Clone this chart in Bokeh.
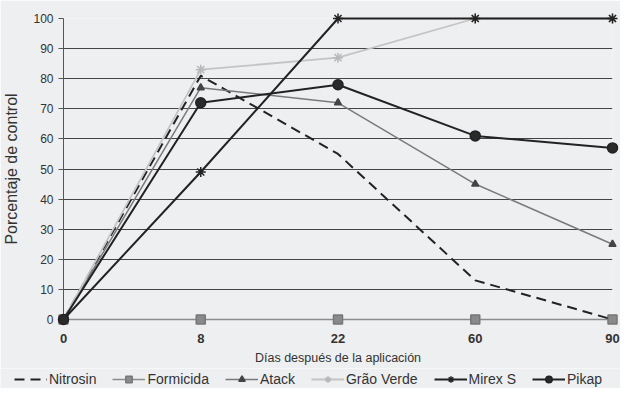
from bokeh.plotting import figure
from bokeh.layouts import column, row
from bokeh.models import FixedTicker, Legend, LegendItem, Range1d
from bokeh.embed import file_html
from bokeh.resources import INLINE

# ---- data ----
days = ["0", "8", "22", "60", "90"]
nitrosin = [0, 81, 55, 13, 0]
formicida = [0, 0, 0, 0, 0]
atack = [0, 77, 72, 45, 25]
grao_verde = [0, 83, 87, 100, 100]
mirex_s = [0, 49, 100, 100, 100]
pikap = [0, 72, 78, 61, 57]
y_ticks = list(range(0, 101, 10))
series_names = ["Nitrosin", "Formicida", "Atack", "Grão Verde", "Mirex S", "Pikap"]

x = list(range(len(days)))
FONT = "Liberation Sans"
BG = "#eeeff1"

p = figure(width=620, height=368, output_backend="svg", toolbar_location=None,
           x_range=Range1d(0, len(days) - 1), y_range=Range1d(0, 100),
           min_border_left=55, min_border_right=8, min_border_top=18,
           min_border_bottom=49)
p.background_fill_color = BG
p.border_fill_color = BG
p.outline_line_color = None

# grid
p.xgrid.visible = False
p.ygrid.ticker = FixedTicker(ticks=y_ticks)
p.ygrid.grid_line_color = "#444444"
p.ygrid.grid_line_width = 1

# y axis
p.yaxis.ticker = FixedTicker(ticks=y_ticks)
p.yaxis.axis_line_color = "#555555"
p.yaxis.major_tick_line_color = "#555555"
p.yaxis.major_tick_out = 5
p.yaxis.major_tick_in = 0
p.yaxis.minor_tick_line_color = None
p.yaxis.major_label_standoff = 5
p.yaxis.major_label_text_font = FONT
p.yaxis.major_label_text_font_size = "12px"
p.yaxis.major_label_text_color = "#333333"
p.yaxis.axis_label = "Porcentaje de control"
p.yaxis.axis_label_text_font = FONT
p.yaxis.axis_label_text_font_size = "16px"
p.yaxis.axis_label_text_font_style = "normal"
p.yaxis.axis_label_text_color = "#333333"
p.yaxis.axis_label_standoff = 10

# x axis
p.xaxis.ticker = FixedTicker(ticks=x)
p.xaxis.major_label_overrides = {i: d for i, d in zip(x, days)}
p.xaxis.axis_line_color = None
p.xaxis.major_tick_line_color = None
p.xaxis.minor_tick_line_color = None
p.xaxis.major_tick_out = 0
p.xaxis.major_tick_in = 0
p.xaxis.major_label_standoff = 14
p.xaxis.major_label_text_font = FONT
p.xaxis.major_label_text_font_size = "13px"
p.xaxis.major_label_text_font_style = "bold"
p.xaxis.major_label_text_color = "#333333"
p.xaxis.axis_label = "Días después de la aplicación"
p.xaxis.axis_label_text_font = FONT
p.xaxis.axis_label_text_font_size = "12.5px"
p.xaxis.axis_label_text_font_style = "normal"
p.xaxis.axis_label_text_color = "#333333"
p.xaxis.axis_label_standoff = 5

# legend strip (separate figure below the chart); its ranges keep the
# series themselves out of view so only the legend shows
lg = figure(width=620, height=20, output_backend="svg", toolbar_location=None,
            x_range=Range1d(0, 1), y_range=Range1d(1000, 1001),
            x_axis_type=None, y_axis_type=None, min_border=0,
            min_border_left=0, min_border_right=0, min_border_top=0,
            min_border_bottom=0)
lg.background_fill_color = BG
lg.border_fill_color = BG
lg.outline_line_color = None
lg.grid.visible = False

styles = {
    "Nitrosin": dict(color="#222222", width=2, dash="10 6", marker=None),
    "Formicida": dict(color="#8c8c8c", width=1.5, dash="solid", marker="square",
                      msize=9, mfill="#8a8a8a", mline="#777777"),
    "Atack": dict(color="#7a7a7a", width=1.5, dash="solid", marker="triangle",
                  msize=7, mfill="#444444", mline="#444444"),
    "Grão Verde": dict(color="#c4c4c4", width=1.8, dash="solid", marker="asterisk",
                       msize=10, mfill="#b8b8b8", mline="#b8b8b8"),
    "Mirex S": dict(color="#222222", width=2, dash="solid", marker="asterisk",
                    msize=10, mfill="#222222", mline="#222222"),
    "Pikap": dict(color="#222222", width=2, dash="solid", marker="circle",
                  msize=10, mfill="#2a2a2a", mline="#222222"),
}
data = {"Nitrosin": nitrosin, "Formicida": formicida, "Atack": atack,
        "Grão Verde": grao_verde, "Mirex S": mirex_s, "Pikap": pikap}

def draw(fig, xs, ys, st):
    rs = [fig.line(xs, ys, line_color=st["color"], line_width=st["width"],
                   line_dash=st["dash"], level="overlay")]
    if st["marker"] is not None:
        rs.append(fig.scatter(xs, ys, marker=st["marker"], size=st["msize"],
                              fill_color=st["mfill"], line_color=st["mline"],
                              line_width=1.5, level="overlay"))
    return rs

# draw order: Formicida under everything
for name in ["Formicida", "Nitrosin", "Atack", "Grão Verde", "Mirex S", "Pikap"]:
    draw(p, x, data[name], styles[name])

items = []
for name in series_names:
    rs = draw(lg, x, data[name], styles[name])
    items.append(LegendItem(label=name, renderers=rs))

legend = Legend(items=items, location=(14, 1), orientation="horizontal",
                spacing=16, glyph_width=33, glyph_height=16, label_height=16,
                label_standoff=2, padding=0, margin=0,
                border_line_color=None, background_fill_alpha=0,
                label_text_font=FONT, label_text_font_size="14px",
                label_text_color="#333333")
lg.add_layout(legend)

layout = column(p, row(lg, spacing=0), spacing=0)
open("out.html", "w").write(file_html(layout, INLINE))
